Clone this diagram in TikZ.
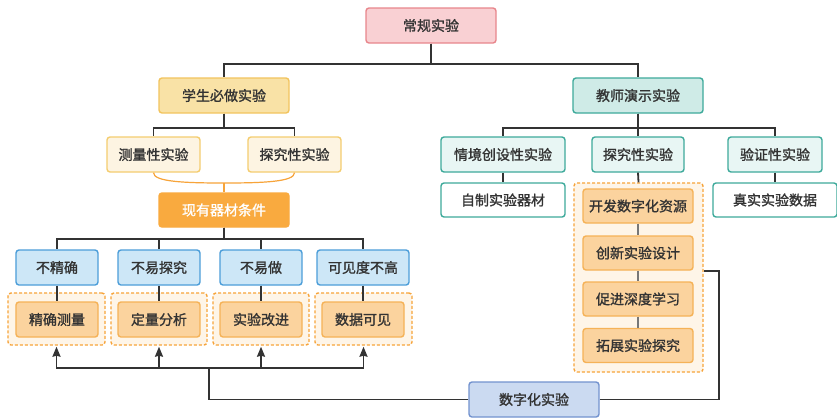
\documentclass[tikz,border=0pt]{standalone}
\usepackage{fontspec}
\setmainfont{Noto Sans CJK SC}[FakeBold=1.3]
\usepackage{tikz}
\usetikzlibrary{arrows,arrows.meta,backgrounds}

\definecolor{darkline}{HTML}{333333}
\definecolor{grayline}{HTML}{777777}
\definecolor{txt}{HTML}{333333}
\definecolor{rootfill}{HTML}{F9D0D3}
\definecolor{rootdraw}{HTML}{E8868C}
\definecolor{stufill}{HTML}{F9E2A6}
\definecolor{studraw}{HTML}{F2C45E}
\definecolor{kindfill}{HTML}{FDF4E2}
\definecolor{kinddraw}{HTML}{F4CD70}
\definecolor{condfill}{HTML}{F9AA3F}
\definecolor{probfill}{HTML}{CDE7F7}
\definecolor{probdraw}{HTML}{4C9ED9}
\definecolor{gainfill}{HTML}{FBD39E}
\definecolor{gaindraw}{HTML}{F5B257}
\definecolor{dashfill}{HTML}{FEF5E8}
\definecolor{dashdraw}{HTML}{F7A43A}
\definecolor{teafill}{HTML}{CFEBE7}
\definecolor{teadraw}{HTML}{3EAA9B}
\definecolor{demofill}{HTML}{E8F6F4}
\definecolor{digifill}{HTML}{CBDAF1}
\definecolor{digidraw}{HTML}{7393CF}

\begin{document}
\begin{tikzpicture}[x=1bp,y=-1bp,font=\fontsize{14bp}{16bp}\selectfont]

\tikzstyle{block} = [draw, text centered, rounded corners=3bp, line width=1.4bp, text=txt, inner sep=0pt, minimum height=35bp]
\tikzstyle{dashblock} = [draw=dashdraw, fill=dashfill, rounded corners=3bp, line width=1.4bp, dash pattern=on 3bp off 2bp, inner sep=0pt]
\tikzstyle{conn} = [draw=darkline, line width=1.8bp]
\tikzstyle{innerconn} = [draw=grayline, line width=1.8bp]
\tikzstyle{uparrow} = [draw=darkline, line width=1.8bp, -{Stealth[length=10bp,width=8bp,inset=1bp]}]

\useasboundingbox (0,0) rectangle (837,417);
\draw node (anchor) at (0,0) {};

%Root: top middle

\path (anchor)+(431,25.5) node (root) [block, fill=rootfill, draw=rootdraw, minimum width=130bp] {常规实验};

%Student experiments: left

\path (root)+(-207,70) node (stu) [block, fill=stufill, draw=studraw, minimum width=130bp] {学生必做实验};

\path (stu)+(-70.5,59) node (meas) [block, fill=kindfill, draw=kinddraw, minimum width=93bp] {测量性实验};
\path (stu)+(70.5,59) node (expl) [block, fill=kindfill, draw=kinddraw, minimum width=93bp] {探究性实验};

\path (stu)+(0,114.5) node (cond) [block, fill=condfill, draw=condfill, text=white, minimum width=130bp, minimum height=34bp] {现有器材条件};
\path (stu)+(0,87.5) coordinate (arc_mid);

%Problems and gains: bottom left

\path (anchor)+(57,267.5) node (prob_1) [block, fill=probfill, draw=probdraw, minimum width=82bp] {不精确};
\path (prob_1)+(102,0) node (prob_2) [block, fill=probfill, draw=probdraw, minimum width=82bp] {不易探究};
\path (prob_2)+(102,0) node (prob_3) [block, fill=probfill, draw=probdraw, minimum width=82bp] {不易做};
\path (prob_3)+(102,0) node (prob_4) [block, fill=probfill, draw=probdraw, minimum width=92bp] {可见度不高};

\path (prob_1)+(-0.5,51.5) node (dash_1) [dashblock, minimum width=97bp, minimum height=52bp] {};
\path (prob_2)+(0,51.5) node (dash_2) [dashblock, minimum width=96bp, minimum height=52bp] {};
\path (prob_3)+(0,51.5) node (dash_3) [dashblock, minimum width=96bp, minimum height=52bp] {};
\path (prob_4)+(0.5,51.5) node (dash_4) [dashblock, minimum width=97bp, minimum height=52bp] {};

\path (prob_1)+(0,52) node (gain_1) [block, fill=gainfill, draw=gaindraw, minimum width=82bp] {精确测量};
\path (prob_2)+(0,52) node (gain_2) [block, fill=gainfill, draw=gaindraw, minimum width=82bp] {定量分析};
\path (prob_3)+(0,52) node (gain_3) [block, fill=gainfill, draw=gaindraw, minimum width=82bp] {实验改进};
\path (prob_4)+(0,52) node (gain_4) [block, fill=gainfill, draw=gaindraw, minimum width=82bp] {数据可见};

%Teacher experiments: right

\path (root)+(207,70) node (tea) [block, fill=teafill, draw=teadraw, minimum width=130bp] {教师演示实验};

\path (tea)+(-135,59) node (demo_1) [block, fill=demofill, draw=teadraw, minimum width=124bp] {情境创设性实验};
\path (tea)+(0,59) node (demo_2) [block, fill=demofill, draw=teadraw, minimum width=92bp] {探究性实验};
\path (tea)+(137,59) node (demo_3) [block, fill=demofill, draw=teadraw, minimum width=94bp] {验证性实验};

\path (demo_1)+(0,45.5) node (self_made) [block, fill=white, draw=teadraw, minimum width=124bp, minimum height=34bp] {自制实验器材};
\path (demo_3)+(0,45.5) node (real_data) [block, fill=white, draw=teadraw, minimum width=124bp, minimum height=34bp] {真实实验数据};

\path (demo_2)+(0.5,123) node (dash_r) [dashblock, minimum width=129bp, minimum height=189bp] {};

\path (demo_2)+(0,51.5) node (ext_1) [block, fill=gainfill, draw=gaindraw, minimum width=110bp, minimum height=34bp] {开发数字化资源};
\path (ext_1)+(0,47) node (ext_2) [block, fill=gainfill, draw=gaindraw, minimum width=110bp, minimum height=34bp] {创新实验设计};
\path (ext_2)+(0,46) node (ext_3) [block, fill=gainfill, draw=gaindraw, minimum width=110bp, minimum height=34bp] {促进深度学习};
\path (ext_3)+(0,46.5) node (ext_4) [block, fill=gainfill, draw=gaindraw, minimum width=110bp, minimum height=34bp] {拓展实验探究};

%Digital experiment: bottom

\path (anchor)+(534,399.5) node (digi) [block, fill=digifill, draw=digidraw, minimum width=130bp] {数字化实验};

%Arrows

\draw [conn] (root.south) -- ++(0,20) -| (stu.north);
\draw [conn] (root.south) -- ++(0,20) -| (tea.north);

\draw [conn] (stu.south) -- ++(0,14) -| (meas.north);
\draw [conn] (stu.south) -- ++(0,14) -| (expl.north);

\draw [draw=dashdraw, line width=1.2bp] (meas.south) .. controls +(0,9) and +(-40,0) .. (arc_mid)
  .. controls +(40,0) and +(0,9) .. (expl.south);
\draw [draw=dashdraw, line width=1.2bp] (arc_mid) -- (cond.north);

\foreach \i in {1,...,4} {
  \draw [conn] (cond.south) -- ++(0,11) -| (prob_\i.north);
  \draw [conn] (prob_\i.south) -- (gain_\i.north);
}

\draw [conn] (tea.south) -- ++(0,14) -| (demo_1.north);
\draw [conn] (tea.south) -- ++(0,14) -| (demo_3.north);
\draw [conn] (tea.south) -- (demo_2.north);
\draw [conn] (demo_1.south) -- (self_made.north);
\draw [conn] (demo_3.south) -- (real_data.north);
\draw [conn] (demo_2.south) -- (dash_r.north);

\draw [innerconn] (ext_1) -- (ext_2);
\draw [innerconn] (ext_2) -- (ext_3);
\draw [innerconn] (ext_3) -- (ext_4);

\path (digi.west)+(-259,-31.5) coordinate (bus);
\draw [conn] (digi.west) -| (bus);
\foreach \i in {1,...,4} {
  \draw [conn] (bus) -| ([yshift=-8bp]dash_\i.south);
  \draw [uparrow] ([yshift=-8bp]dash_\i.south) -- ([yshift=-1bp]dash_\i.south);
}
\draw [conn] (digi.east) -- ++(119,0) |- (dash_r.east |- ext_2.south);

\begin{pgfonlayer}{background}
\fill [white] (0,0) rectangle (837,417);
\end{pgfonlayer}

\end{tikzpicture}
\end{document}
